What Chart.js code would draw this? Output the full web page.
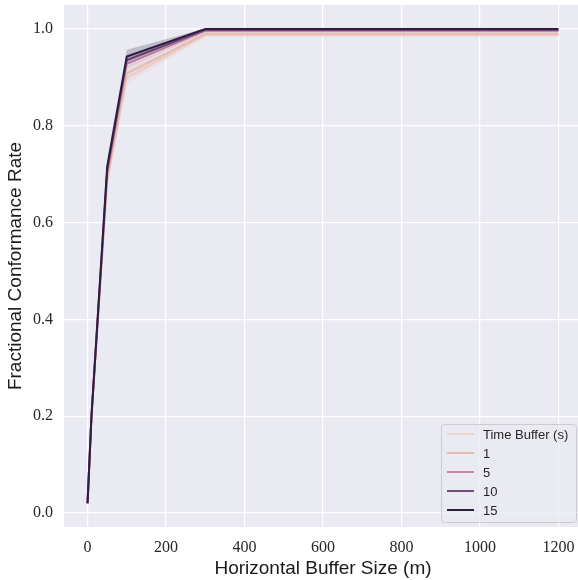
<!DOCTYPE html>
<html>
<head>
<meta charset="utf-8">
<script src="https://cdn.jsdelivr.net/npm/chart.js@4.4.1/dist/chart.umd.min.js"></script>
<style>
  html, body { margin: 0; padding: 0; background: #fff; overflow: hidden; }
  #wrap { width: 582px; height: 580px; }
</style>
</head>
<body>
<div id="wrap"><canvas id="conformance"></canvas></div>
<script>
// Horizontal buffer sizes (m)
var bufferSizes = [0, 10, 50, 100, 300, 1200];

// legend labels, one per time buffer level (0, 1, 5, 10, 15 s)
var legendLabels = ["Time Buffer (s)", "1", "5", "10", "15"];
var lineColors = ["#edd1cb", "#e6bbb2", "#c7879f", "#7b4a82", "#2d1e3e"];

// mean conformance rate per time buffer
var rate0  = [0.02, 0.20, 0.685, 0.900, 0.987, 0.987];
var rate1  = [0.02, 0.20, 0.690, 0.908, 0.990, 0.990];
var rate5  = [0.02, 0.20, 0.700, 0.928, 0.996, 0.996];
var rate10 = [0.02, 0.20, 0.708, 0.936, 0.998, 0.998];
var rate15 = [0.02, 0.20, 0.715, 0.943, 1.000, 1.000];

// confidence band bounds
var low0  = [0.02, 0.19, 0.670, 0.885, 0.983, 0.983];
var high0 = [0.02, 0.21, 0.700, 0.915, 0.991, 0.991];
var low1  = [0.02, 0.19, 0.675, 0.893, 0.986, 0.986];
var high1 = [0.02, 0.21, 0.705, 0.922, 0.994, 0.994];
var low5  = [0.02, 0.19, 0.690, 0.918, 0.993, 0.993];
var high5 = [0.02, 0.21, 0.710, 0.938, 0.999, 0.999];
var low10  = [0.02, 0.19, 0.695, 0.926, 0.996, 0.996];
var high10 = [0.02, 0.21, 0.720, 0.946, 1.000, 1.000];
var low15  = [0.02, 0.19, 0.700, 0.932, 0.999, 0.999];
var high15 = [0.02, 0.215, 0.730, 0.957, 1.001, 1.001];

var yTicks = [0.0, 0.2, 0.4, 0.6, 0.8, 1.0];
var xTicks = [0, 200, 400, 600, 800, 1000, 1200];

var means = [rate0, rate1, rate5, rate10, rate15];
var lows = [low0, low1, low5, low10, low15];
var highs = [high0, high1, high5, high10, high15];

function pts(arr) {
    return arr.map(function (v, i) { return { x: bufferSizes[i], y: v }; });
}
function withAlpha(hex, a) {
    var r = parseInt(hex.substr(1, 2), 16), g = parseInt(hex.substr(3, 2), 16), b = parseInt(hex.substr(5, 2), 16);
    return "rgba(" + r + "," + g + "," + b + "," + a + ")";
}

// later series are drawn on top (darkest line last)
var datasets = [];
for (var i = 0; i < means.length; i++) {
    var ord = 100 - i * 3;
    datasets.push({ data: pts(lows[i]), borderWidth: 0, pointRadius: 0, fill: false, order: ord });
    datasets.push({ data: pts(highs[i]), borderWidth: 0, pointRadius: 0, fill: "-1",
        backgroundColor: withAlpha(lineColors[i], 0.22), order: ord - 1 });
    datasets.push({ label: legendLabels[i], data: pts(means[i]), borderColor: lineColors[i],
        borderWidth: 2, pointRadius: 0, fill: false, tension: 0, order: ord - 2 });
}

// grey seaborn-style plot background
var plotBg = {
    id: "plotBg",
    beforeDraw: function (chart) {
        var a = chart.chartArea, c = chart.ctx;
        c.save();
        c.fillStyle = "#eaeaf2";
        c.fillRect(a.left, a.top, a.right - a.left, a.bottom - a.top);
        c.restore();
    }
};

// legend box in the lower right corner of the plot
var cornerLegend = {
    id: "cornerLegend",
    afterDraw: function (chart) {
        var c = chart.ctx;
        var bx = 441.5, by = 424.5, bw = 135, bh = 98;
        c.save();
        c.fillStyle = "rgba(234,234,242,0.8)";
        c.strokeStyle = "#cccccc";
        c.lineWidth = 1;
        c.beginPath();
        c.roundRect(bx, by, bw, bh, 3);
        c.fill();
        c.stroke();
        c.font = "13px 'Liberation Sans', Arial, sans-serif";
        c.textBaseline = "middle";
        c.fillStyle = "#262626";
        for (var k = 0; k < legendLabels.length; k++) {
            var yy = 434 + k * 19;
            c.strokeStyle = lineColors[k];
            c.lineWidth = 2;
            c.beginPath();
            c.moveTo(447, yy);
            c.lineTo(474, yy);
            c.stroke();
            c.fillText(legendLabels[k], 483, yy + 1);
        }
        c.restore();
    }
};

var tickFont = { family: "'Liberation Serif', 'DejaVu Serif', serif", size: 16 };
var titleFont = { family: "'Liberation Sans', Arial, sans-serif", size: 19 };

new Chart(document.getElementById("conformance"), {
    type: "line",
    data: { datasets: datasets },
    options: {
        responsive: true,
        maintainAspectRatio: false,
        animation: false,
        layout: { padding: { top: 5, right: 0, left: 4, bottom: 0 } },
        plugins: { legend: { display: false }, tooltip: { enabled: false } },
        scales: {
            x: {
                type: "linear", min: -60, max: 1260,
                afterBuildTicks: function (s) { s.ticks = xTicks.map(function (v) { return { value: v }; }); },
                afterFit: function (s) { s.height = 53; s.paddingLeft = 0; s.paddingRight = 0; },
                grid: { color: "#ffffff", lineWidth: 1.2, drawTicks: false },
                border: { display: false },
                ticks: { font: tickFont, color: "#262626", padding: 11, maxRotation: 0,
                    callback: function (v) { return String(v); } },
                title: { display: true, text: "Horizontal Buffer Size (m)", font: titleFont, color: "#1a1a1a",
                    padding: { top: 0, bottom: 0 } }
            },
            y: {
                min: -0.029, max: 1.0496,
                afterBuildTicks: function (s) { s.ticks = yTicks.map(function (v) { return { value: v }; }); },
                afterFit: function (s) { s.width = 60; s.paddingTop = 0; s.paddingBottom = 0; },
                grid: { color: "#ffffff", lineWidth: 1.2, drawTicks: false },
                border: { display: false },
                ticks: { font: tickFont, color: "#262626", padding: 11,
                    callback: function (v) { return v.toFixed(1); } },
                title: { display: true, text: "Fractional Conformance Rate", font: titleFont, color: "#1a1a1a",
                    padding: { top: 0, bottom: 2 } }
            }
        }
    },
    plugins: [plotBg, cornerLegend]
});
</script>
</body>
</html>
